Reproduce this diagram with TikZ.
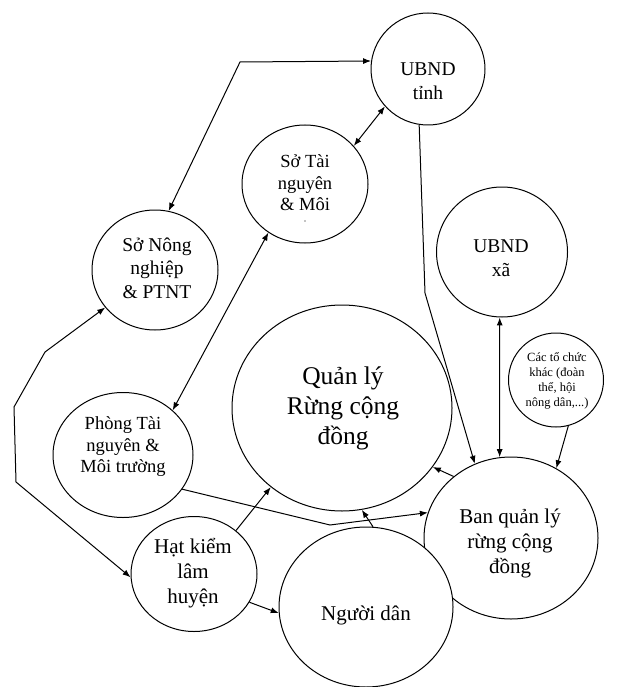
\documentclass[tikz,border=0pt]{standalone}
\usepackage{fontspec}
\setmainfont{Liberation Serif}
\usetikzlibrary{shapes.geometric,arrows.meta}

\begin{document}
\begin{tikzpicture}[x=1pt,y=-1pt,
  unit/.style={ellipse,draw,fill=white,line width=1pt,inner sep=0pt},
  lbl/.style={align=center,inner sep=0pt},
  link/.style={line width=1pt,>={Latex[length=8pt,width=6pt]}},
  fA/.style={font=\fontsize{19.5}{23.5}\selectfont},
  fB/.style={font=\fontsize{18.5}{21.5}\selectfont},
  fC/.style={font=\fontsize{25.5}{30}\selectfont},
  fD/.style={font=\fontsize{21}{25}\selectfont},
  fE/.style={font=\fontsize{12.5}{15}\selectfont},
]
\useasboundingbox (0,0) rectangle (619,687);

% organisations as ellipses
\node[unit,minimum width=114,minimum height=112] (ubt) at (428,69) {};
\node[unit,minimum width=126,minimum height=118] (stn) at (305,184) {};
\node[unit,minimum width=126,minimum height=120] (snn) at (155,270) {};
\node[unit,minimum width=131,minimum height=130] (ubx) at (502,252) {};
\node[unit,minimum width=95,minimum height=94] (tc) at (556,380) {};
\node[unit,minimum width=140,minimum height=125] (ptn) at (123,455) {};
\node[unit,minimum width=220,minimum height=206] (ql) at (342,408) {};
\node[unit,minimum width=174,minimum height=162] (bql) at (511,538) {};
\node[unit,minimum width=126,minimum height=115] (hkl) at (194,574) {};
\node[unit,minimum width=174,minimum height=160] (nd) at (366,607) {};

% texts
\node[lbl,fA] (ubt-t) at (428,81) {UBND\\tỉnh};
\node[lbl,fB] (stn-t) at (305,183) {Sở Tài\\nguyên\\\& Môi};
\node[circle,fill,inner sep=0.5pt] (stn-mark) at (305,221) {};
\node[lbl,fA] (snn-t) at (157,268) {Sở Nông\\nghiệp\\\& PTNT};
\node[lbl,fA] (ubx-t) at (501,258) {UBND\\xã};
\node[lbl,fE] (tc-t) at (557,381) {Các tổ chức\\khác (đoàn\\thể, hội\\nông dân,...)};
\node[lbl,fB] (ptn-t) at (123,447) {Phòng Tài\\nguyên \&\\Môi trường};
\node[lbl,fC] (ql-t) at (343,408) {Quản lý\\Rừng cộng\\đồng};
\node[lbl,fD] (bql-t) at (510,543) {Ban quản lý\\rừng cộng\\đồng};
\node[lbl,fD] (hkl-t) at (193,573) {Hạt kiểm\\lâm\\huyện};
\node[lbl,fD] (nd-t) at (366,615) {Người dân};

% bend points of the routed connectors
\coordinate (k1) at (240,62);
\coordinate (k2) at (45,352);
\coordinate (k3) at (14,407);
\coordinate (k4) at (16,482);
\coordinate (k5) at (330,525);
\coordinate (k6) at (425,293);

% connectors
\draw[link,<->] (ubt.172) -- (k1) -- (snn.77);
\draw[link,<->] (stn.38) -- (ubt.221);
\draw[link,<->] (ptn.42) -- (stn.233);
\draw[link,<->] (snn.217) -- (k2) -- (k3) -- (k4) -- (hkl.183);
\draw[link,->] (hkl.46) -- (ql.228);
\draw[link,->] (hkl.333) -- (nd.184);
\draw[link,->] (ptn.330) -- (k5) -- (bql.163);
\draw[link,->] (nd.85) -- (ql.281);
\draw[link,->] (bql.133) -- (ql.327);
\draw[link,->] (ubt.261) -- (k6) -- (bql.116);
\draw[link,<->] (ubx.268) -- (bql.98);
\draw[link,->] (tc.285) -- (bql.57);
\end{tikzpicture}
\end{document}
